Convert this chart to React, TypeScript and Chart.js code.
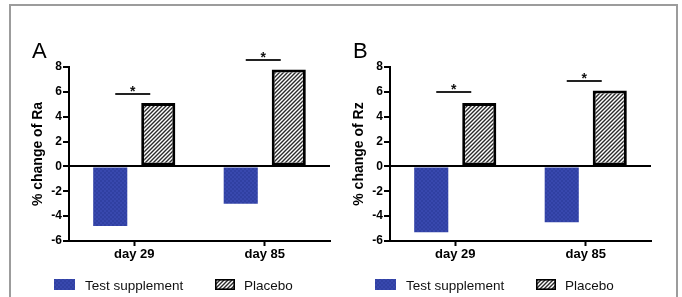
import React, { useEffect, useRef } from 'react';
import { Chart, registerables } from 'chart.js';

Chart.register(...registerables);

const categories = ['day 29', 'day 85'];
const seriesNames = ['Test supplement', 'Placebo'];
const raTest = [-4.8, -3.0];
const raPlacebo = [5.1, 7.8];
const rzTest = [-5.3, -4.5];
const rzPlacebo = [5.1, 6.1];
const raSignificance = [5.8, 8.55];
const rzSignificance = [6.0, 6.9];
const yMin = -6;
const yMax = 8;
const yStep = 2;
const significanceMark = '*';

const FONT = '"Liberation Sans", Arial, Helvetica, sans-serif';

function makeHatch(): CanvasPattern | string {
  const c = document.createElement('canvas');
  c.width = 4;
  c.height = 4;
  const g = c.getContext('2d');
  if (!g) return '#888';
  g.fillStyle = '#ffffff';
  g.fillRect(0, 0, 4, 4);
  g.strokeStyle = '#2a2a2a';
  g.lineWidth = 1.4;
  g.beginPath();
  g.moveTo(0, 4); g.lineTo(4, 0);
  g.moveTo(-1, 1); g.lineTo(1, -1);
  g.moveTo(3, 5); g.lineTo(5, 3);
  g.stroke();
  return g.createPattern(c, 'repeat') || '#888';
}

function makeBlue(): CanvasPattern | string {
  const c = document.createElement('canvas');
  c.width = 4;
  c.height = 4;
  const g = c.getContext('2d');
  if (!g) return '#3646ac';
  g.fillStyle = '#3848ae';
  g.fillRect(0, 0, 4, 4);
  g.fillStyle = '#3040a2';
  g.fillRect(0, 0, 2, 2);
  g.fillRect(2, 2, 2, 2);
  return g.createPattern(c, 'repeat') || '#3646ac';
}

type PanelProps = {
  label: string;
  yTitle: string;
  test: number[];
  placebo: number[];
  significance: number[];
  left: number;
};

function Panel({ label, yTitle, test, placebo, significance, left }: PanelProps) {
  const ref = useRef<HTMLCanvasElement | null>(null);

  useEffect(() => {
    if (!ref.current) return;
    const hatch = makeHatch();
    const blue = makeBlue();

    const annotate = {
      id: 'annotate',
      afterDatasetsDraw(chart: any) {
        const { ctx, chartArea, scales } = chart;
        const x = scales.x;
        const y = scales.y;
        ctx.save();
        // panel letter
        ctx.fillStyle = '#000';
        ctx.font = `22px ${FONT}`;
        ctx.textAlign = 'left';
        ctx.textBaseline = 'alphabetic';
        ctx.fillText(label, chartArea.left - 37, chartArea.top - 9);
        // significance brackets
        significance.forEach((v, i) => {
          const cx = x.getPixelForValue(i);
          const py = Math.round(y.getPixelForValue(v));
          ctx.strokeStyle = '#222';
          ctx.lineWidth = 2;
          ctx.beginPath();
          ctx.moveTo(cx - 19, py);
          ctx.lineTo(cx + 16, py);
          ctx.stroke();
          ctx.fillStyle = '#111';
          ctx.font = `bold 14px ${FONT}`;
          ctx.textAlign = 'center';
          ctx.fillText(significanceMark, cx - 1.5, py + 2);
        });
        // legend
        const ds = chart.data.datasets;
        const legendTop = chartArea.bottom + 38;
        const items = [
          { bx: chartArea.left - 15, bw: 21, tx: chartArea.left + 16 },
          { bx: chartArea.left + 146, bw: 20, tx: chartArea.left + 175 },
        ];
        items.forEach((it, i) => {
          const d = ds[i];
          ctx.fillStyle = d.backgroundColor;
          ctx.fillRect(it.bx, legendTop, it.bw, 11);
          if (d.borderWidth) {
            ctx.strokeStyle = '#000';
            ctx.lineWidth = 1.6;
            ctx.strokeRect(it.bx + 0.8, legendTop + 0.8, it.bw - 1.6, 11 - 1.6);
          }
          ctx.fillStyle = '#111';
          ctx.font = `13.5px ${FONT}`;
          ctx.textAlign = 'left';
          ctx.fillText(d.label, it.tx, legendTop + 11);
        });
        ctx.restore();
      },
    };

    const chart = new Chart(ref.current, {
      type: 'bar',
      data: {
        labels: categories,
        datasets: [
          {
            label: seriesNames[0],
            data: test,
            backgroundColor: blue as any,
            borderWidth: 0,
            categoryPercentage: 0.736,
            barPercentage: 0.71,
          },
          {
            label: seriesNames[1],
            data: placebo,
            backgroundColor: hatch as any,
            borderColor: '#000',
            borderWidth: 3,
            borderSkipped: false,
            categoryPercentage: 0.736,
            barPercentage: 0.71,
          },
        ],
      },
      options: {
        animation: false,
        responsive: true,
        maintainAspectRatio: false,
        layout: { padding: { left: 30, top: 67, right: 11, bottom: 0 } },
        plugins: { legend: { display: false }, tooltip: { enabled: false } },
        scales: {
          x: {
            offset: true,
            grid: {
              offset: false,
              drawOnChartArea: false,
              drawTicks: true,
              tickLength: 5,
              tickWidth: 2,
              tickColor: '#000',
            },
            border: { display: true, color: '#000', width: 2 },
            ticks: {
              color: '#000',
              padding: 1,
              font: { family: FONT, size: 13, weight: 'bold' },
            },
            afterFit: (s: any) => { s.height = 56; },
          },
          y: {
            min: yMin,
            max: yMax,
            ticks: {
              stepSize: yStep,
              color: '#000',
              padding: 1,
              font: { family: FONT, size: 12, weight: 'bold' },
            },
            grid: {
              drawOnChartArea: true,
              color: (c: any) => (c.tick && c.tick.value === 0 ? '#000' : 'rgba(0,0,0,0)'),
              lineWidth: 2,
              tickColor: '#000',
              tickLength: 6,
              tickWidth: 2,
            },
            border: { display: true, color: '#000', width: 2 },
            title: {
              display: true,
              text: yTitle,
              color: '#000',
              padding: 0,
              font: { family: FONT, size: 14, weight: 'bold' },
            },
            afterFit: (s: any) => { s.width = 39; },
          },
        },
      } as any,
      plugins: [annotate],
    });
    return () => chart.destroy();
  }, [label, yTitle, test, placebo, significance]);

  return (
    <div style={{ position: 'absolute', left, top: 0, width: 341, height: 297 }}>
      <canvas ref={ref} />
    </div>
  );
}

export default function App() {
  return (
    <div style={{ position: 'fixed', left: 0, top: 0, width: 682, height: 297, background: '#fff', overflow: 'hidden' }}>
      <div
        style={{
          position: 'absolute',
          left: 9,
          top: 4,
          width: 665,
          height: 320,
          border: '2px solid #9c9c9c',
        }}
      />
      <Panel label="A" yTitle="% change of Ra" test={raTest} placebo={raPlacebo} significance={raSignificance} left={0} />
      <Panel label="B" yTitle="% change of Rz" test={rzTest} placebo={rzPlacebo} significance={rzSignificance} left={321} />
    </div>
  );
}
